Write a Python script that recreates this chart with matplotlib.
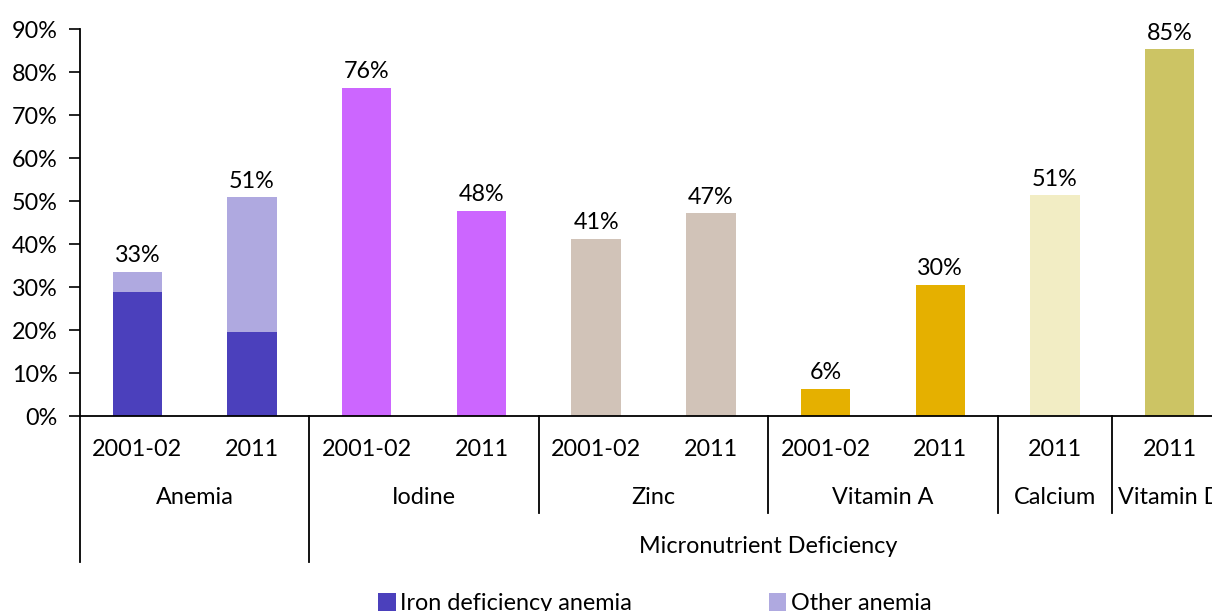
import matplotlib
matplotlib.use("Agg")
import matplotlib.pyplot as plt
import matplotlib.transforms as mtransforms
from matplotlib.patches import Patch

plt.rcParams['font.family'] = ['Lato', 'DejaVu Sans']

# ---- data ----
years = ["2001-02", "2011", "2001-02", "2011", "2001-02", "2011", "2001-02", "2011", "2011", "2011"]
nutrients = ["Anemia", "Iodine", "Zinc", "Vitamin A", "Calcium", "Vitamin D"]
nutrient_spans = [2, 2, 2, 2, 1, 1]
group_label = "Micronutrient Deficiency"
iron_anemia = [28.9, 19.5]
other_anemia = [4.6, 31.4]
anemia_labels = ["33%", "51%"]
micro_values = [76.3, 47.7, 41.2, 47.2, 6.3, 30.5, 51.3, 85.3]
micro_labels = ["76%", "48%", "41%", "47%", "6%", "30%", "51%", "85%"]
micro_colors = ["#CC66FF", "#CC66FF", "#D1C3B8", "#D1C3B8", "#E5B000", "#E5B000", "#F2EDC4", "#CCC464"]
legend_labels = ["Iron deficiency anemia", "Other anemia"]
iron_color = "#4B40BC"
other_color = "#AFA9E0"
yticks = [0, 10, 20, 30, 40, 50, 60, 70, 80, 90]

FS = 16.8

fig = plt.figure(figsize=(12.12, 6.11), dpi=100)
ax = fig.add_axes([0.066, 0.3191, 0.9464, 0.6334])

bw = 0.43
xa = [0, 1]
ax.bar(xa, iron_anemia, width=bw, color=iron_color, label=legend_labels[0])
ax.bar(xa, other_anemia, bottom=iron_anemia, width=bw, color=other_color, label=legend_labels[1])
tot = [a + b for a, b in zip(iron_anemia, other_anemia)]
for x, t, l in zip(xa, tot, anemia_labels):
    ax.annotate(l, (x, t), xytext=(0, 4), textcoords="offset points", ha="center", va="bottom", fontsize=FS)

xm = list(range(2, 2 + len(micro_values)))
ax.bar(xm, micro_values, width=bw, color=micro_colors)
for x, v, l in zip(xm, micro_values, micro_labels):
    ax.annotate(l, (x, v), xytext=(0, 4), textcoords="offset points", ha="center", va="bottom", fontsize=FS)

ax.set_xlim(-0.5, len(years) - 0.5)
ax.set_ylim(0, 90)
ax.set_yticks(yticks)
ax.set_yticklabels([f"{t}%" for t in yticks], fontsize=FS)
ax.tick_params(axis='y', length=8, width=1.2, pad=8, color='black')
ax.set_xticks([])
for s in ['top', 'right']:
    ax.spines[s].set_visible(False)
ax.spines['left'].set_linewidth(1.3)
ax.spines['bottom'].set_linewidth(1.3)

trans = mtransforms.blended_transform_factory(ax.transData, ax.transAxes)
axh_px = 0.6334 * 611

def yfrac(py):
    return -(py - 416) / axh_px

# year labels
for i, y in enumerate(years):
    ax.text(i, yfrac(449), y, transform=trans, ha="center", va="center", fontsize=FS, clip_on=False)

# nutrient labels and separators
start = 0
bounds = []
for name, span in zip(nutrients, nutrient_spans):
    c = start + (span - 1) / 2
    ax.text(c, yfrac(497), name, transform=trans, ha="center", va="center", fontsize=FS, clip_on=False)
    bounds.append(start - 0.5)
    start += span
for b in bounds:
    if b <= 1.5:
        y0 = yfrac(562)
    else:
        y0 = yfrac(513)
    ax.plot([b, b], [0, y0], transform=trans, color="black", lw=1.3, clip_on=False)

# group label
ax.text((2 + len(years) - 1) / 2, yfrac(546), group_label, transform=trans, ha="center", va="center", fontsize=FS, clip_on=False)

handles = [Patch(facecolor=iron_color), Patch(facecolor=other_color)]
fig.legend(handles, legend_labels, loc="center left", bbox_to_anchor=(378 / 1212, 0.012), ncol=2, frameon=False,
           borderpad=0, borderaxespad=0,
           fontsize=FS, handlelength=0.75, handleheight=0.75, handletextpad=0.2, columnspacing=5.85)

fig.savefig("out.png", dpi=100)
